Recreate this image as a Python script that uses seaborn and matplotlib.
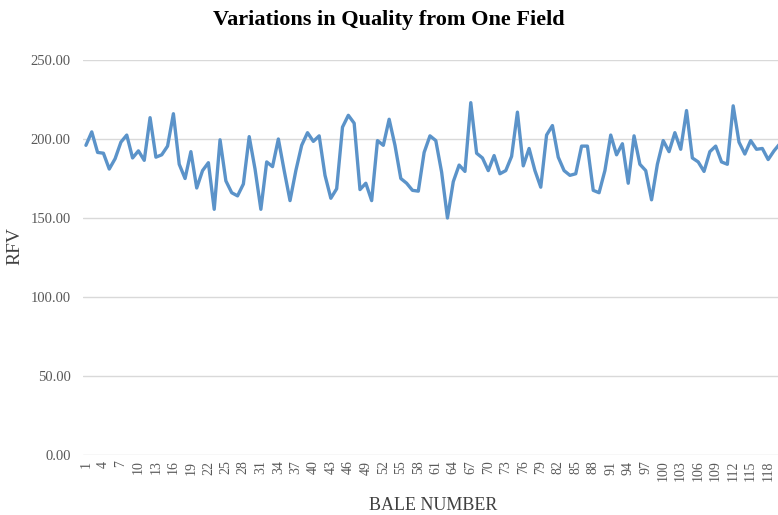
import numpy as np
import pandas as pd
import seaborn as sns
import matplotlib
matplotlib.use("Agg")
import matplotlib.pyplot as plt

# RFV per bale
rfv = [196, 204.5, 191.5, 191, 181, 187.5, 198, 202.5, 188, 192.5,
       186.5, 213.5, 188.5, 190, 195.5, 216, 184, 175, 192, 169,
       180, 185, 155.5, 199.5, 173.5, 166, 164, 171.5, 201.5, 181,
       155.5, 185.5, 182.5, 200, 180, 161, 180, 196, 204, 198.5,
       202, 177, 162.5, 168.5, 207.5, 215, 210, 168, 172, 161,
       199, 196, 212.5, 196, 175, 172, 167.5, 167, 191.5, 202,
       199, 179, 150, 173, 183.5, 179.5, 223, 191, 188, 180,
       189.5, 178, 180, 189, 217, 183, 194, 180, 169.5, 202.5,
       208.5, 188.5, 180, 177, 178, 195.5, 195.5, 167.5, 166, 180,
       202.5, 190, 197, 172, 202, 184, 180, 161.5, 184, 199,
       192, 204, 193.5, 218, 188, 185.5, 179.5, 192, 195.5, 185.5,
       184, 221, 198, 190.5, 199, 193.5, 194, 187, 192.5, 197]
bales = list(range(1, len(rfv) + 1))
tick_bales = list(range(1, 119, 3))
y_ticks = [0, 50, 100, 150, 200, 250]

df = pd.DataFrame({"bale": bales, "rfv": rfv})

sns.set_style("white")
plt.rcParams["font.family"] = ["Liberation Serif", "DejaVu Serif"]

fig = plt.figure(figsize=(7.78, 5.15), dpi=100)
ax = fig.add_axes([0.1067, 0.1165, 0.8994, 0.767])

sns.lineplot(data=df, x="bale", y="rfv", ax=ax, color="#5b93c9", linewidth=2.4)

ax.set_xlim(0.5, 120.5)
ax.set_ylim(0, 250)
ax.set_yticks(y_ticks)
ax.set_yticklabels([f"{v:.2f}" for v in y_ticks], fontsize=10.5, color="#595959")
ax.set_xticks(tick_bales)
ax.set_xticklabels([str(b) for b in tick_bales], rotation=90, fontsize=10, color="#595959")
ax.tick_params(axis="both", length=0)
ax.tick_params(axis="x", pad=4)
ax.tick_params(axis="y", pad=9)

ax.grid(axis="y", color="#d9d9d9", linewidth=1)
ax.set_axisbelow(True)
for s in ax.spines.values():
    s.set_visible(False)

ax.set_ylabel("RFV", fontsize=14, color="#404040", va="center")
ax.yaxis.set_label_coords(-0.097, 0.53)
ax.set_xlabel("BALE NUMBER", fontsize=13, color="#404040")
ax.xaxis.set_label_coords(0.5, -0.127)
ax.xaxis.label.set_va("center")

fig.suptitle("Variations in Quality from One Field", x=0.5, y=0.962,
             va="center", fontsize=16, fontweight="bold", color="black")

fig.savefig("out.png", dpi=100)
